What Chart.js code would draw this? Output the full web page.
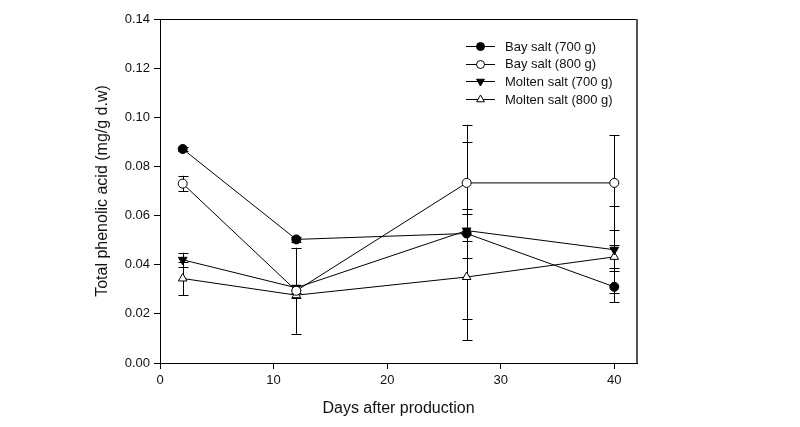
<!DOCTYPE html>
<html>
<head>
<meta charset="utf-8">
<script src="https://cdn.jsdelivr.net/npm/chart.js@4"></script>
<style>
  html, body { margin: 0; padding: 0; background: #fff; }
  #wrap { width: 800px; height: 427px; }
</style>
</head>
<body>
<div id="wrap"><canvas id="c" width="800" height="427"></canvas></div>
<script>
const days = [2, 12, 27, 40];
const xTicks = [0, 10, 20, 30, 40];
const yTicks = [0, 0.02, 0.04, 0.06, 0.08, 0.10, 0.12, 0.14];

const seriesNames = ['Bay salt (700 g)', 'Bay salt (800 g)', 'Molten salt (700 g)', 'Molten salt (800 g)'];
const bay700 = [0.0871, 0.0503, 0.0527, 0.0310];
const bay700Err = [0.0008, 0.0010, 0.0100, 0.0063];
const bay800 = [0.0730, 0.0294, 0.0733, 0.0733];
const bay800Err = [0.0032, 0.0175, 0.0237, 0.0193];
const molten700 = [0.0420, 0.0306, 0.0539, 0.0461];
const molten700Err = [0.0029, 0.0010, 0.0359, 0.0176];
const molten800 = [0.0344, 0.0276, 0.0350, 0.0432];
const molten800Err = [0.0068, 0.0010, 0.0257, 0.0047];

const FONT = '"Liberation Sans", Arial, sans-serif';

function pts(vals) { return days.map((d, i) => ({ x: d, y: vals[i] })); }

function ds(label, vals, errs, style, fill, rot) {
  return {
    label: label,
    data: pts(vals),
    errors: errs,
    borderColor: '#000',
    borderWidth: 1,
    backgroundColor: fill,
    pointStyle: style,
    pointRotation: rot,
    pointRadius: style === 'circle' ? 4.5 : 5,
    pointBorderColor: '#000',
    pointBackgroundColor: fill,
    pointBorderWidth: 1,
    tension: 0,
    fill: false
  };
}

const errorBars = {
  id: 'errorBars',
  beforeDatasetsDraw(chart) {
    const ctx = chart.ctx, xs = chart.scales.x, ys = chart.scales.y;
    ctx.save();
    ctx.strokeStyle = '#000';
    ctx.lineWidth = 1;
    chart.data.datasets.forEach(d => {
      d.data.forEach((p, i) => {
        const e = d.errors[i];
        const px = Math.round(xs.getPixelForValue(p.x)) + 0.5;
        const top = ys.getPixelForValue(p.y + e);
        const bot = ys.getPixelForValue(p.y - e);
        ctx.beginPath();
        ctx.moveTo(px, top); ctx.lineTo(px, bot);
        ctx.moveTo(px - 5, Math.round(top) + 0.5); ctx.lineTo(px + 5, Math.round(top) + 0.5);
        ctx.moveTo(px - 5, Math.round(bot) + 0.5); ctx.lineTo(px + 5, Math.round(bot) + 0.5);
        ctx.stroke();
      });
    });
    ctx.restore();
  }
};

const frameAndLegend = {
  id: 'frameAndLegend',
  afterDraw(chart) {
    const ctx = chart.ctx, a = chart.chartArea;
    ctx.save();
    ctx.strokeStyle = '#000';
    ctx.lineWidth = 1;
    ctx.beginPath();
    ctx.moveTo(a.left, Math.round(a.top) + 0.5);
    ctx.lineTo(a.right, Math.round(a.top) + 0.5);
    ctx.stroke();
    ctx.strokeStyle = '#555';
    ctx.lineWidth = 2;
    ctx.beginPath();
    ctx.moveTo(Math.round(a.right), a.top);
    ctx.lineTo(Math.round(a.right), a.bottom);
    ctx.stroke();
    const rowsY = [46, 63.5, 81, 99];
    chart.data.datasets.forEach((d, i) => {
      const y = rowsY[i];
      ctx.strokeStyle = '#000';
      ctx.lineWidth = 1;
      ctx.beginPath();
      ctx.moveTo(466, Math.round(y) + 0.5);
      ctx.lineTo(495, Math.round(y) + 0.5);
      ctx.stroke();
      ctx.fillStyle = d.pointBackgroundColor;
      Chart.helpers.drawPoint(ctx, {
        pointStyle: d.pointStyle,
        rotation: d.pointRotation,
        radius: d.pointRadius - 0.5,
        borderWidth: 1
      }, 480.5, Math.round(y) + 0.5);
      ctx.fillStyle = '#111';
      ctx.font = '13px ' + FONT;
      ctx.textBaseline = 'middle';
      ctx.textAlign = 'left';
      ctx.fillText(d.label, 505, y + 1);
    });
    ctx.restore();
  }
};

new Chart(document.getElementById('c'), {
  type: 'line',
  data: {
    datasets: [
      ds(seriesNames[0], bay700, bay700Err, 'circle', '#000', 0),
      ds(seriesNames[1], bay800, bay800Err, 'circle', '#fff', 0),
      ds(seriesNames[2], molten700, molten700Err, 'triangle', '#000', 180),
      ds(seriesNames[3], molten800, molten800Err, 'triangle', '#fff', 0)
    ]
  },
  options: {
    responsive: false,
    animation: false,
    layout: { padding: { left: 0, top: 19, right: 163, bottom: 0 } },
    plugins: { legend: { display: false }, tooltip: { enabled: false } },
    scales: {
      x: {
        type: 'linear',
        min: 0, max: 42,
        afterBuildTicks(s) { s.ticks = xTicks.map(v => ({ value: v })); },
        afterFit(s) { s.height = 64; },
        grid: { drawOnChartArea: false, drawTicks: true, tickLength: 6, color: '#000' },
        border: { display: true, color: '#000', width: 1 },
        ticks: { color: '#111', font: { family: FONT, size: 13 }, padding: 4, maxRotation: 0 },
        title: { display: true, text: 'Days after production', color: '#111', font: { family: FONT, size: 16 }, padding: { top: 0, bottom: 8.4 } }
      },
      y: {
        type: 'linear',
        min: 0, max: 0.14,
        afterBuildTicks(s) { s.ticks = yTicks.map(v => ({ value: v })); },
        afterFit(s) { s.width = 160; },
        grid: { drawOnChartArea: false, drawTicks: true, tickLength: 6, color: '#000' },
        border: { display: true, color: '#000', width: 1 },
        ticks: { color: '#111', font: { family: FONT, size: 13 }, padding: 4, callback: v => v.toFixed(2) },
        title: { display: true, text: 'Total phenolic acid (mg/g d.w)', color: '#111', font: { family: FONT, size: 16 }, padding: { top: 93.4, bottom: 0 } }
      }
    }
  },
  plugins: [errorBars, frameAndLegend]
});
</script>
</body>
</html>
